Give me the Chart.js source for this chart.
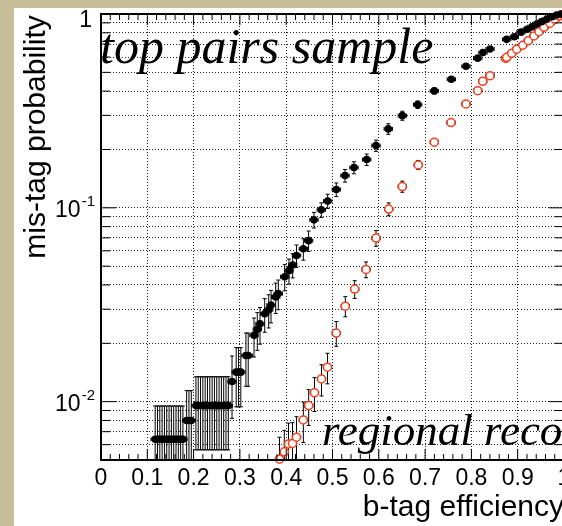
<!DOCTYPE html>
<html>
<head>
<meta charset="utf-8">
<script src="https://cdn.jsdelivr.net/npm/chart.js@4"></script>
<style>
  html, body { margin: 0; padding: 0; }
  body { width: 562px; height: 526px; overflow: hidden; position: relative; background: #c8bd99; }
  #papel { position: absolute; left: 14px; top: 8px; width: 600px; height: 530px; background: #fff; }
  #grafico { position: absolute; left: 0; top: 0; }
</style>
</head>
<body>
<div id="papel"></div>
<canvas id="grafico" width="600" height="526"></canvas>
<script>
// etiquetas de los ejes
const etiquetasX = ["0", "0.1", "0.2", "0.3", "0.4", "0.5", "0.6", "0.7", "0.8", "0.9", "1"];
const valoresX = [0, 0.1, 0.2, 0.3, 0.4, 0.5, 0.6, 0.7, 0.8, 0.9, 1];
const decadasY = [1, 0.1, 0.01];
const exponentesY = ["", "-1", "-2"];
const lineasY = [0.005, 0.006, 0.007, 0.008, 0.009,
  0.01, 0.02, 0.03, 0.04, 0.05, 0.06, 0.07, 0.08, 0.09,
  0.1, 0.2, 0.3, 0.4, 0.5, 0.6, 0.7, 0.8, 0.9, 1];

// top pairs (negros, rellenos)
const negrosX = [
  0.117, 0.122, 0.127, 0.132, 0.137, 0.142, 0.147, 0.152, 0.157, 0.162, 0.167, 0.172, 0.177,
  0.185, 0.190, 0.195,
  0.205, 0.210, 0.215, 0.220, 0.225, 0.230, 0.235, 0.240, 0.245, 0.250, 0.255, 0.260, 0.265, 0.270, 0.275,
  0.283, 0.292, 0.297, 0.302, 0.313, 0.318,
  0.3305, 0.3376, 0.3434, 0.3536, 0.3622, 0.3672, 0.3773, 0.3829, 0.3968, 0.406, 0.414, 0.4222,
  0.437, 0.4484, 0.46, 0.4758, 0.4896, 0.5082, 0.527, 0.5464, 0.5739, 0.594, 0.6205, 0.6508,
  0.684, 0.7199, 0.7566, 0.7883, 0.8136, 0.825, 0.8402, 0.8762, 0.8927, 0.9071, 0.9207, 0.9309,
  0.941, 0.9518, 0.9626, 0.9734, 0.9842, 0.995
];
const negrosY = [
  0.0064, 0.0064, 0.0064, 0.0064, 0.0064, 0.0064, 0.0064, 0.0064, 0.0064, 0.0064, 0.0064, 0.0064, 0.0064,
  0.0080, 0.0080, 0.0080,
  0.00954, 0.00954, 0.00954, 0.00954, 0.00954, 0.00954, 0.00954, 0.00954, 0.00954, 0.00954, 0.00954, 0.00954, 0.00954, 0.00954, 0.00954,
  0.0127, 0.0142, 0.0142, 0.0142, 0.0173, 0.0173,
  0.0220, 0.0236, 0.0252, 0.0284, 0.0298, 0.0315, 0.0347, 0.0361, 0.0441, 0.0474, 0.0507, 0.0568,
  0.0615, 0.0677, 0.0867, 0.0976, 0.1083, 0.1243, 0.1467, 0.1613, 0.1774, 0.2096, 0.2554, 0.299,
  0.3407, 0.401, 0.4607, 0.5375, 0.592, 0.633, 0.66, 0.74, 0.763, 0.806, 0.834, 0.86,
  0.888, 0.913, 0.939, 0.968, 0.988, 0.999
];
const negrosErrY = [
  0.0031, 0.0031, 0.0031, 0.0031, 0.0031, 0.0031, 0.0031, 0.0031, 0.0031, 0.0031, 0.0031, 0.0031, 0.0031,
  0.0034, 0.0034, 0.0034,
  0.0039, 0.0039, 0.0039, 0.0039, 0.0039, 0.0039, 0.0039, 0.0039, 0.0039, 0.0039, 0.0039, 0.0039, 0.0039, 0.0039, 0.0039,
  0.0045, 0.0048, 0.0048, 0.0048, 0.0053, 0.0053,
  0.0050, 0.0052, 0.0054, 0.0056, 0.0058, 0.0060, 0.0062, 0.0063, 0.0068, 0.0070, 0.0072, 0.0075,
  0.0078, 0.0082, 0.0080, 0.0085, 0.0092, 0.0100, 0.0110, 0.0115, 0.0120, 0.0140, 0.0160, 0.0160,
  0.015, 0.014, 0.012, 0.011, 0.010, 0.009, 0.009, 0.008, 0.007, 0.006, 0.006, 0.005,
  0.004, 0.004, 0.004, 0.003, 0.002, 0.001
];

// regional reco (rojos, huecos)
const rojosX = [
  0.3855, 0.3959, 0.405, 0.4136, 0.4222, 0.437, 0.4486, 0.4611, 0.4762, 0.4892,
  0.5082, 0.5277, 0.5479, 0.5724, 0.594, 0.6214, 0.6508, 0.6853, 0.7199, 0.756,
  0.7883, 0.8136, 0.8244, 0.8402, 0.874, 0.8762, 0.887, 0.8978, 0.9108, 0.9229,
  0.9352, 0.946, 0.9568, 0.9698, 0.9806, 0.9899, 0.9957
];
const rojosY = [
  0.00505, 0.00551, 0.00605, 0.00609, 0.00656, 0.00805, 0.00954, 0.0111, 0.0131, 0.01506,
  0.0226, 0.0311, 0.0381, 0.0481, 0.0698, 0.0985, 0.1288, 0.1665, 0.2182, 0.2753,
  0.3437, 0.4024, 0.4497, 0.4808, 0.59, 0.598, 0.627, 0.658, 0.690, 0.728,
  0.770, 0.811, 0.854, 0.896, 0.939, 0.976, 0.999
];
const rojosErrY = [
  0.0015, 0.0016, 0.0017, 0.0017, 0.0018, 0.0019, 0.0020, 0.0022, 0.0024, 0.0027,
  0.0033, 0.0037, 0.0040, 0.0045, 0.0065, 0.0075, 0.0085, 0.0090, 0.0090, 0.0090,
  0.0090, 0.008, 0.008, 0.007, 0.006, 0.006, 0.006, 0.005, 0.005, 0.005,
  0.004, 0.004, 0.004, 0.003, 0.003, 0.002, 0.001
];
const errXNegros = 0.009;
const errXRojos = 0.009;

function puntos(xs, ys) {
  return xs.map((x, i) => ({ x, y: ys[i] }));
}

// barras de error estilo ROOT, debajo de los marcadores
const barrasError = {
  id: "barrasError",
  beforeDatasetsDraw(chart) {
    const { ctx, chartArea: a, scales } = chart;
    ctx.save();
    ctx.beginPath();
    ctx.rect(a.left, a.top, a.right - a.left, a.bottom - a.top);
    ctx.clip();
    ctx.strokeStyle = "#000";
    ctx.lineWidth = 1;
    chart.data.datasets.forEach(ds => {
      ds.data.forEach((p, i) => {
        const px = scales.x.getPixelForValue(p.x);
        const py = scales.y.getPixelForValue(p.y);
        const x1 = scales.x.getPixelForValue(p.x - ds.errX);
        const x2 = scales.x.getPixelForValue(p.x + ds.errX);
        const y1 = scales.y.getPixelForValue(p.y + ds.errY[i]);
        const y2 = scales.y.getPixelForValue(p.y - ds.errY[i]);
        ctx.beginPath();
        ctx.moveTo(px, y1); ctx.lineTo(px, y2);
        ctx.moveTo(x1, py); ctx.lineTo(x2, py);
        ctx.moveTo(px - 2, y1); ctx.lineTo(px + 2, y1);
        ctx.moveTo(px - 2, y2); ctx.lineTo(px + 2, y2);
        ctx.moveTo(x1, py - 2); ctx.lineTo(x1, py + 2);
        ctx.moveTo(x2, py - 2); ctx.lineTo(x2, py + 2);
        ctx.stroke();
      });
    });
    ctx.restore();
  }
};

// marco, marcas hacia dentro, etiquetas y textos
const marco = {
  id: "marco",
  afterDraw(chart) {
    const { ctx, chartArea: a, scales: { x, y } } = chart;
    ctx.save();
    ctx.strokeStyle = "#000";
    ctx.lineWidth = 1;
    ctx.beginPath();
    for (let k = 0; k <= 50; k++) {
      const px = x.getPixelForValue(k / 50);
      const largo = k % 5 === 0 ? 11 : 6;
      ctx.moveTo(px, a.bottom); ctx.lineTo(px, a.bottom - largo);
      ctx.moveTo(px, a.top); ctx.lineTo(px, a.top + largo);
    }
    lineasY.forEach(v => {
      const py = y.getPixelForValue(v);
      const largo = decadasY.includes(v) ? 15 : 9;
      ctx.moveTo(a.left, py); ctx.lineTo(a.left + largo, py);
      ctx.moveTo(a.right, py); ctx.lineTo(a.right - largo, py);
    });
    ctx.stroke();

    ctx.lineWidth = 2;
    ctx.strokeRect(a.left, a.top, a.right - a.left, a.bottom - a.top);

    ctx.fillStyle = "#000";
    ctx.font = '23px "Liberation Sans", Arial, sans-serif';
    ctx.textAlign = "center";
    ctx.textBaseline = "alphabetic";
    valoresX.forEach((v, i) => {
      ctx.fillText(etiquetasX[i], x.getPixelForValue(v), 485);
    });

    ctx.textAlign = "right";
    decadasY.forEach((v, i) => {
      const py = y.getPixelForValue(v);
      if (!exponentesY[i]) {
        ctx.font = '23px "Liberation Sans", Arial, sans-serif';
        ctx.fillText("1", 92, Math.max(py + 8, 27));
        return;
      }
      ctx.font = '15px "Liberation Sans", Arial, sans-serif';
      ctx.fillText(exponentesY[i], 95, py - 2);
      const ancho = ctx.measureText(exponentesY[i]).width;
      ctx.font = '23px "Liberation Sans", Arial, sans-serif';
      ctx.fillText("10", 95 - ancho - 1, py + 9);
    });

    ctx.font = '30px "Liberation Sans", Arial, sans-serif';
    ctx.textAlign = "right";
    ctx.fillText("b-tag efficiency", a.right, 516);

    ctx.save();
    ctx.translate(45, 137);
    ctx.rotate(-Math.PI / 2);
    ctx.textAlign = "center";
    ctx.fillText("mis-tag probability", 0, 0);
    ctx.restore();

    ctx.textAlign = "left";
    ctx.font = 'italic 50px "Liberation Serif", "Times New Roman", serif';
    ctx.fillText("top pairs sample", 100, 63);
    ctx.font = 'italic 45px "Liberation Serif", "Times New Roman", serif';
    ctx.fillText("regional reconstruction", 322, 445);
    ctx.restore();
  }
};

const rejilla = {
  color: "#222",
  lineWidth: 1,
  drawTicks: false
};

new Chart(document.getElementById("grafico"), {
  type: "scatter",
  data: {
    datasets: [{
      label: "top pairs sample",
      data: puntos(negrosX, negrosY),
      errX: errXNegros,
      errY: negrosErrY,
      pointStyle: "circle",
      pointRadius: 3.8,
      pointBackgroundColor: "#000",
      pointBorderColor: "#000",
      pointBorderWidth: 0,
      clip: 4
    }, {
      label: "regional reco",
      data: puntos(rojosX, rojosY),
      errX: errXRojos,
      errY: rojosErrY,
      pointStyle: "circle",
      pointRadius: 4,
      pointBackgroundColor: "#fff",
      pointBorderColor: "#f2411f",
      pointBorderWidth: 1.5,
      clip: 4
    }]
  },
  options: {
    responsive: false,
    animation: false,
    events: [],
    layout: { padding: { left: 101, top: 14, right: 36, bottom: 66 } },
    plugins: { legend: { display: false }, tooltip: { enabled: false } },
    scales: {
      x: {
        type: "linear",
        min: 0,
        max: 1,
        ticks: { display: false, stepSize: 0.1 },
        grid: rejilla,
        border: { display: false, dash: [1, 2] }
      },
      y: {
        type: "logarithmic",
        min: 0.005,
        max: 1,
        afterBuildTicks: (escala) => {
          escala.ticks = lineasY.map(v => ({ value: v }));
        },
        ticks: { display: false },
        grid: rejilla,
        border: { display: false, dash: [1, 2] }
      }
    }
  },
  plugins: [barrasError, marco]
});
</script>
</body>
</html>
